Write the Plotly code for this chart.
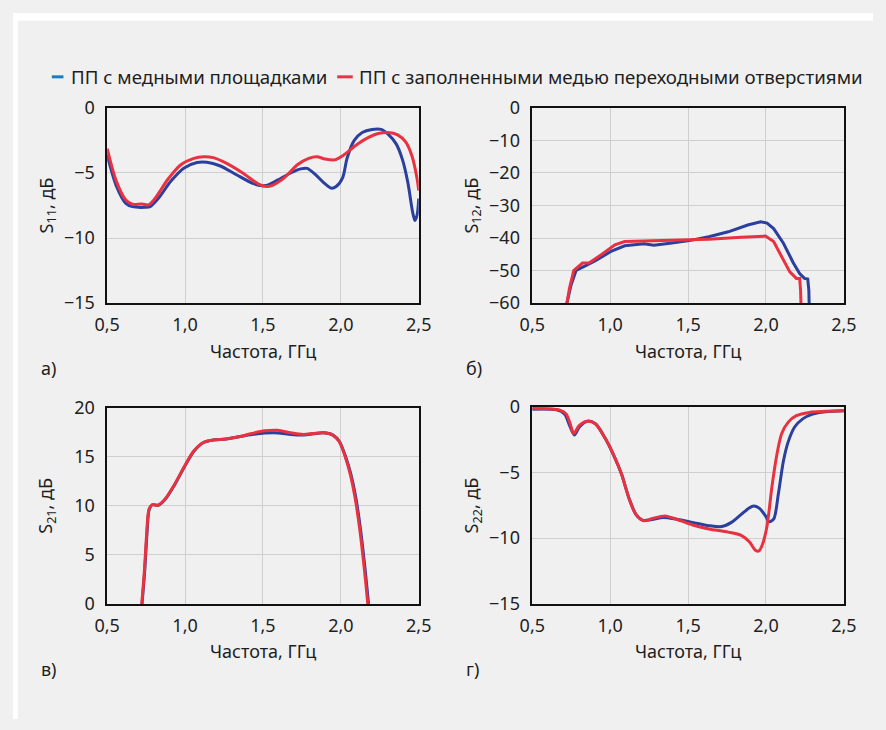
import plotly.graph_objects as go

W, H = 886, 730

# ---- measured S-parameters, frequency in GHz, level in dB ----
# "cu" = board with copper pads, "via" = board with copper-filled vias
f_s11_cu = [0.5, 0.558, 0.62, 0.662, 0.745, 0.776, 0.828, 0.911, 0.994, 1.077, 1.14, 1.223,
            1.327, 1.43, 1.493, 1.534, 1.597, 1.68, 1.742, 1.784, 1.836, 1.888, 1.94, 1.97,
            2.012, 2.04, 2.085, 2.137, 2.2, 2.26, 2.303, 2.355, 2.396, 2.43, 2.46, 2.475, 2.49, 2.5]
s11_cu = [-3.63, -5.98, -7.34, -7.59, -7.64, -7.59, -6.97, -5.61, -4.62, -4.20, -4.18, -4.45,
          -5.12, -5.78, -5.98, -5.93, -5.54, -4.99, -4.69, -4.65, -5.12, -5.73, -6.18, -6.05,
          -5.36, -3.88, -2.52, -1.90, -1.66, -1.66, -2.03, -2.77, -4.0, -5.73, -7.96, -8.65, -8.2, -6.97]

f_s11_via = [0.5, 0.558, 0.62, 0.662, 0.724, 0.766, 0.807, 0.89, 0.973, 1.057, 1.119, 1.181,
             1.264, 1.368, 1.472, 1.524, 1.565, 1.638, 1.721, 1.794, 1.846, 1.898, 1.96, 2.012,
             2.095, 2.178, 2.24, 2.303, 2.365, 2.417, 2.458, 2.49, 2.5]
s11_via = [-3.14, -5.61, -7.09, -7.41, -7.39, -7.46, -6.97, -5.49, -4.37, -3.88, -3.76, -3.83,
           -4.25, -4.99, -5.86, -6.05, -5.93, -5.36, -4.37, -3.88, -3.76, -3.93, -4.0, -3.68,
           -2.89, -2.27, -1.98, -1.90, -2.08, -2.64, -3.76, -5.49, -6.35]

f_s12_cu = [0.712, 0.722, 0.749, 0.781, 0.843, 0.905, 1.009, 1.093, 1.217, 1.28, 1.384, 1.508,
            1.633, 1.758, 1.883, 1.966, 2.007, 2.049, 2.112, 2.174, 2.216, 2.247, 2.268, 2.275, 2.28]
s12_cu = [-66, -60, -54.4, -49.95, -48.5, -47.0, -44.0, -42.4, -41.8, -42.2, -41.6, -40.8,
          -39.6, -38.1, -36.0, -35.0, -35.4, -37.1, -41.6, -47.5, -50.9, -52.4, -52.6, -56, -66]

f_s12_via = [0.712, 0.722, 0.739, 0.766, 0.822, 0.864, 0.947, 1.03, 1.093, 1.217, 1.425, 1.633,
             1.841, 1.997, 2.049, 2.112, 2.153, 2.195, 2.216, 2.222, 2.228]
s12_via = [-66, -60, -55.4, -50.0, -47.7, -47.7, -45.0, -42.1, -41.1, -40.9, -40.6, -40.4,
           -39.8, -39.4, -41.1, -46.5, -50.4, -52.4, -52.4, -56, -66]

f_s21_cu = [0.724, 0.741, 0.755, 0.77, 0.79, 0.828, 0.87, 0.932, 0.994, 1.057, 1.119, 1.181,
            1.264, 1.347, 1.43, 1.513, 1.597, 1.68, 1.763, 1.825, 1.888, 1.95, 1.991, 2.033,
            2.064, 2.095, 2.126, 2.157, 2.178]
s21_cu = [0, 3.36, 6.99, 9.62, 10.1, 10.05, 10.6, 12.1, 13.9, 15.55, 16.44, 16.7,
          16.8, 17.03, 17.25, 17.4, 17.42, 17.27, 17.22, 17.33, 17.43, 17.2, 16.54, 14.9,
          13.25, 10.94, 7.64, 3.36, 0]

f_s21_via = [0.722, 0.739, 0.753, 0.768, 0.788, 0.826, 0.868, 0.93, 0.992, 1.055, 1.117, 1.179,
             1.262, 1.345, 1.428, 1.511, 1.595, 1.678, 1.761, 1.823, 1.886, 1.948, 1.989, 2.03,
             2.06, 2.09, 2.121, 2.152, 2.173]
s21_via = [0, 3.36, 6.99, 9.62, 10.1, 10.05, 10.6, 12.1, 13.9, 15.55, 16.44, 16.7,
           16.8, 17.03, 17.36, 17.63, 17.69, 17.43, 17.27, 17.36, 17.43, 17.2, 16.54, 14.9,
           13.25, 10.94, 7.64, 3.36, 0]

f_s22_cu = [0.5, 0.656, 0.708, 0.739, 0.77, 0.802, 0.853, 0.905, 0.968, 1.03, 1.072, 1.124,
            1.165, 1.207, 1.259, 1.342, 1.425, 1.529, 1.633, 1.716, 1.778, 1.841, 1.914, 1.955,
            1.997, 2.018, 2.049, 2.08, 2.112, 2.143, 2.184, 2.236, 2.299, 2.382, 2.5]
s22_cu = [-0.2, -0.25, -0.57, -1.43, -2.16, -1.55, -1.11, -1.30, -2.41, -3.89, -5.11, -7.08,
          -8.19, -8.63, -8.61, -8.43, -8.56, -8.8, -9.05, -9.12, -8.8, -8.19, -7.57, -7.7,
          -8.31, -8.75, -8.56, -6.59, -4.13, -2.66, -1.55, -0.93, -0.57, -0.39, -0.32]

f_s22_via = [0.5, 0.677, 0.718, 0.743, 0.766, 0.802, 0.853, 0.905, 0.968, 1.03, 1.072, 1.124,
             1.165, 1.217, 1.269, 1.352, 1.425, 1.529, 1.633, 1.758, 1.841, 1.893, 1.934, 1.955,
             1.976, 2.007, 2.038, 2.07, 2.101, 2.143, 2.195, 2.278, 2.5]
s22_via = [-0.15, -0.27, -0.57, -1.3, -2.04, -1.43, -1.11, -1.30, -2.41, -3.89, -5.11, -7.08,
           -8.19, -8.68, -8.51, -8.31, -8.56, -9.0, -9.3, -9.54, -9.79, -10.28, -10.94, -10.97,
           -10.52, -9.05, -6.1, -3.64, -2.04, -1.18, -0.69, -0.44, -0.32]

series_names = ["ПП с медными площадками", "ПП с заполненными медью переходными отверстиями"]
panel_letters = ["а)", "б)", "в)", "г)"]
y_titles = ["S<sub>11</sub>, дБ", "S<sub>12</sub>, дБ", "S<sub>21</sub>, дБ", "S<sub>22</sub>, дБ"]
x_title = "Частота, ГГц"

x_ticks = [0.5, 1.0, 1.5, 2.0, 2.5]
x_ticktext = ["0,5", "1,0", "1,5", "2,0", "2,5"]
y_ticks = [
    [0, -5, -10, -15],
    [0, -10, -20, -30, -40, -50, -60],
    [0, 5, 10, 15, 20],
    [0, -5, -10, -15],
]
y_ticktext = [
    ["0", "−5", "−10", "−15"],
    ["0", "−10", "−20", "−30", "−40", "−50", "−60"],
    ["0", "5", "10", "15", "20"],
    ["0", "−5", "−10", "−15"],
]
y_ranges = [[-15, 0], [-60, 0], [0, 20], [-15, 0]]

BLUE = "#2b3f9e"
RED = "#e8323f"
BLUE_KEY = "#1f78c8"
RED_KEY = "#e8334a"
BG = "#f0f0f0"
TXT = "#1e1e1e"
FONT = "Noto Sans"

# plot-area boxes in pixels: (left, right, top, bottom)
boxes = [(97, 418, 98, 300), (535, 856, 98, 300), (97, 418, 408, 611), (535, 856, 407, 611)]

def px_x(v):
    return v / W

def px_y(v):
    return 1 - v / H

fig = go.Figure()

pairs = [
    (f_s11_cu, s11_cu, f_s11_via, s11_via, "spline"),
    (f_s12_cu, s12_cu, f_s12_via, s12_via, "linear"),
    (f_s21_cu, s21_cu, f_s21_via, s21_via, "spline"),
    (f_s22_cu, s22_cu, f_s22_via, s22_via, "spline"),
]

for i, (fx1, y1, fx2, y2, shape) in enumerate(pairs):
    sfx = "" if i == 0 else str(i + 1)
    for fx, yy, col, name in ((fx1, y1, BLUE, series_names[0]), (fx2, y2, RED, series_names[1])):
        fig.add_trace(go.Scatter(
            x=fx, y=yy, mode="lines", name=name, showlegend=False,
            line=dict(color=col, width=3, shape=shape, smoothing=0.8),
            xaxis="x" + sfx, yaxis="y" + sfx,
        ))

layout_axes = {}
annotations = []
for i, (l, r, t, b) in enumerate(boxes):
    sfx = "" if i == 0 else str(i + 1)
    common = dict(
        showline=True, linecolor="#111111", linewidth=1.5, mirror=True,
        showgrid=True, gridcolor="#cfcfcf", gridwidth=1,
        zeroline=False, ticks="", fixedrange=True,
        tickfont=dict(family=FONT, size=18, color=TXT),
    )
    layout_axes["xaxis" + sfx] = dict(
        common, domain=[px_x(l), px_x(r)], range=[0.5, 2.5], ticklabelstandoff=5,
        tickvals=x_ticks, ticktext=x_ticktext, anchor="y" + sfx,
    )
    layout_axes["yaxis" + sfx] = dict(
        common, domain=[px_y(b), px_y(t)], range=y_ranges[i], ticklabelstandoff=7,
        tickvals=y_ticks[i], ticktext=y_ticktext[i], anchor="x" + sfx,
    )
    # axis titles
    annotations.append(dict(
        text=x_title, x=px_x((l + r) / 2), y=px_y(b + 49), xref="paper", yref="paper",
        xanchor="center", yanchor="middle", showarrow=False,
        font=dict(family=FONT, size=18, color=TXT),
    ))
    annotations.append(dict(
        text=y_titles[i], x=px_x(l - 62), y=px_y((t + b) / 2), xref="paper", yref="paper",
        xanchor="center", yanchor="middle", showarrow=False, textangle=-90,
        font=dict(family=FONT, size=18, color=TXT),
    ))
    # panel letter
    annotations.append(dict(
        text=panel_letters[i], x=px_x(l - 70), y=px_y(b + 67), xref="paper", yref="paper",
        xanchor="left", yanchor="middle", showarrow=False,
        font=dict(family=FONT, size=18, color=TXT),
    ))

# legend drawn as key lines plus labels
legend_y = 66
keys = [(40, 52, 58, BLUE_KEY, series_names[0]), (334, 350, 354, RED_KEY, series_names[1])]
shapes = [
    # white page edge above and left of the grey panel
    dict(type="rect", xref="paper", yref="paper", x0=0, x1=px_x(5), y0=0, y1=1,
         fillcolor="white", line=dict(width=0), layer="below"),
    dict(type="rect", xref="paper", yref="paper", x0=0, x1=1, y0=px_y(8), y1=1,
         fillcolor="white", line=dict(width=0), layer="below"),
]
for x0, x1, xt, col, name in keys:
    shapes.append(dict(type="line", xref="paper", yref="paper",
                       x0=px_x(x0), x1=px_x(x1), y0=px_y(legend_y), y1=px_y(legend_y),
                       line=dict(color=col, width=3)))
    annotations.append(dict(
        text=name, x=px_x(xt), y=px_y(legend_y), xref="paper", yref="paper",
        xanchor="left", yanchor="middle", showarrow=False,
        font=dict(family=FONT, size=18.7, color=TXT),
    ))

fig.update_layout(
    width=W, height=H, margin=dict(l=0, r=0, t=0, b=0),
    paper_bgcolor=BG, plot_bgcolor=BG,
    showlegend=False, shapes=shapes, annotations=annotations,
    **layout_axes,
)

fig.write_html("out.html")
